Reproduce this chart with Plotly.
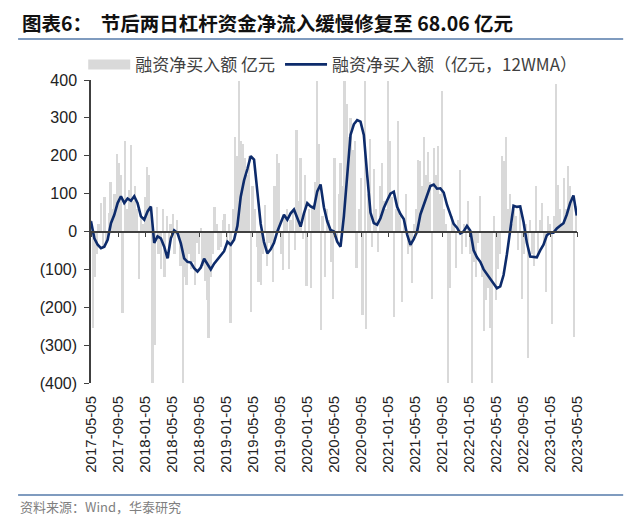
import pandas as pd
import plotly.graph_objects as go

# ---------------- data ----------------
title_text = "图表6：  节后两日杠杆资金净流入缓慢修复至 68.06 亿元"
source_text = "资料来源：Wind，华泰研究"
bar_name = "融资净买入额 亿元"
line_name = "融资净买入额（亿元，12WMA）"

tick_dates = ["2017-05-05", "2017-09-05", "2018-01-05", "2018-05-05", "2018-09-05",
              "2019-01-05", "2019-05-05", "2019-09-05", "2020-01-05", "2020-05-05",
              "2020-09-05", "2021-01-05", "2021-05-05", "2021-09-05", "2022-01-05",
              "2022-05-05", "2022-09-05", "2023-01-05", "2023-05-05"]

y_tick_vals = [400, 300, 200, 100, 0, -100, -200, -300, -400]
y_tick_text = ["400", "300", "200", "100", "0", "(100)", "(200)", "(300)", "(400)"]

# daily net financing purchases, sampled every 9 days (亿元)
bar_start = "2017-05-05"
bar_step = "9D"
bar_values = [
    30, -255, -120, -60, 20, 75, -40, 90, -30, 50,
    130, 60, 100, 205, 180, 150, -215, 238, 60, 110,
    228, 80, 120, 60, -125, 40, 20, 90, 170, 150,
    60, -400, -300, 65, -60, -100, 60, -120, 40, -70,
    20, 45, -60, 30, -20, -90, -400, -120, -140, -60,
    -100, -80, -140, -30, -60, 10, -90, -130, -180, -282,
    -120, -60, 66, 20, -50, -40, 30, 45, -30, 20,
    -242, 60, 250, 200, 397, 240, 230, 195, 150, 200,
    -213, 120, 60, -40, -133, -140, -60, 70, -90, -30,
    -50, -133, 120, 205, 180, -60, -102, 40, 60, -100,
    30, 60, -50, 269, 80, 195, -20, 150, -145, 60,
    -150, 70, 130, 397, 230, -260, 40, -120, 60, 30,
    -80, -177, 195, -20, 100, 180, 120, 397, 336, 250,
    300, 216, 240, -97, 60, 140, -221, 397, -257, 100,
    243, -40, 164, 60, -53, 120, 180, 80, 60, 397,
    239, 90, -225, 60, 291, 40, -186, 30, 100, -60,
    -40, -137, 20, 60, 190, 186, 120, 250, 150, 210,
    130, -177, 220, 150, 225, 100, 372, 60, 20, -400,
    -150, 40, 20, -97, 30, 163, -60, 20, -40, 80,
    -60, -400, -80, -120, -30, 93, -120, -264, -180, -150,
    -255, -400, 40, -180, -100, -60, 200, 186, 250, 60,
    100, 20, 60, 40, -50, 70, -177, -60, 20, -335,
    30, -60, -90, 120, -60, 30, 75, -30, -160, 40,
    20, -243, 40, 390, 124, 60, 20, 142, 60, 173,
    120, 90, -278, 68.06,
]

# 12-week moving average, sampled every 15 days (亿元)
line_start = "2017-05-05"
line_step = "15D"
line_values = [
    27, -18, -35, -44, -40, -22, 22, 44, 75, 93,
    75, 87, 81, 93, 75, 40, 31, 53, 66, -30,
    -13, -18, -40, -71, -18, 3, -4, -31, -71, -80,
    -82, -97, -106, -95, -72, -86, -100, -85, -73, -64,
    -52, -27, -35, -22, 15, 92, 135, 165, 199, 190,
    100, 20, -28, -58, -47, -30, 0, 22, 44, 31,
    48, 58, 35, 13, 48, 75, 66, 62, 106, 124,
    64, 27, 4, 0, -27, -40, 40, 160, 255, 283,
    294, 290, 255, 150, 50, 22, 18, 35, 62, 82,
    100, 105, 65, 46, 33, -8, -35, -20, 0, 45,
    72, 96, 120, 124, 113, 114, 103, 70, 42, 20,
    10, -5, 0, 15, 2, -50, -68, -80, -100, -113,
    -125, -140, -150, -145, -115, -60, 10, 68, 65, 66,
    25, -30, -66, -67, -68, -50, -35, -10, -3, -3,
    8, 15, 22, 45, 75, 95, 42,
]

bar_dates = pd.date_range(bar_start, periods=len(bar_values), freq=bar_step)
line_dates = pd.date_range(line_start, periods=len(line_values), freq=line_step)

# ---------------- style ----------------
FONT = "Arial, 'Liberation Sans', 'Noto Sans CJK SC', sans-serif"
CJK = "'Noto Sans CJK SC', Arial, sans-serif"
BAR_COLOR = "#d9d9d9"
LINE_COLOR = "#0d2b6b"
AXIS_COLOR = "#404040"
RULE_COLOR = "#7f9bbf"
x_range = [tick_dates[0], tick_dates[-1]]

fig = go.Figure()

fig.add_trace(go.Bar(
    x=bar_dates, y=bar_values, marker_color=BAR_COLOR, marker_line_width=0,
    width=9 * 86400000, showlegend=False, xaxis="x", yaxis="y",
))
# legend swatch for the bars (legend only)
fig.add_trace(go.Scatter(
    x=[None], y=[None], mode="lines", name=bar_name,
    line=dict(color=BAR_COLOR, width=10), xaxis="x", yaxis="y",
))
fig.add_trace(go.Scatter(
    x=line_dates, y=line_values, mode="lines", name=line_name,
    line=dict(color=LINE_COLOR, width=2.6), xaxis="x2", yaxis="y",
))

# the page body has an 8px margin, so the figure is 8px smaller on each axis
fig.update_layout(
    width=632, height=510,
    margin=dict(l=83, r=63, t=72, b=135),
    paper_bgcolor="white", plot_bgcolor="white",
    font=dict(family=FONT, size=15, color="#222222"),
    bargap=0,
    showlegend=True,
    legend=dict(
        orientation="h", x=-0.016, xanchor="left", y=1.05, yanchor="middle",
        font=dict(family=CJK, size=17, color="#404040"),
        itemwidth=42, traceorder="normal", bgcolor="rgba(0,0,0,0)",
    ),
    xaxis=dict(
        range=x_range, type="date", domain=[0, 1], anchor="y",
        tickvals=tick_dates, ticktext=tick_dates, tickangle=-90,
        showline=False, showgrid=False, zeroline=False,
        ticks="outside", ticklen=6, tickcolor="rgba(0,0,0,0)",
        tickfont=dict(family=FONT, size=15, color="#222222"),
    ),
    xaxis2=dict(
        range=x_range, type="date", overlaying="x", anchor="free", position=0.5,
        tickvals=tick_dates, showticklabels=False,
        showline=True, linecolor=AXIS_COLOR, linewidth=1.5,
        ticks="outside", ticklen=5, tickcolor=AXIS_COLOR, tickwidth=1,
        showgrid=False, zeroline=False,
    ),
    yaxis=dict(
        range=[-400, 400], domain=[0, 1],
        tickvals=y_tick_vals, ticktext=y_tick_text,
        showline=True, linecolor=AXIS_COLOR, linewidth=1.5,
        ticks="outside", ticklen=5, tickcolor=AXIS_COLOR,
        ticklabelstandoff=4,
        showgrid=False, zeroline=False,
        tickfont=dict(family=FONT, size=16, color="#222222"),
    ),
)

fig.add_annotation(
    text="<b>" + title_text + "</b>", xref="paper", yref="paper",
    x=-0.146, y=1.191, xanchor="left", yanchor="middle", showarrow=False,
    font=dict(family=CJK, size=19.5, color="#111111"),
)
fig.add_annotation(
    text=source_text, xref="paper", yref="paper",
    x=-0.150, y=-0.409, xanchor="left", yanchor="middle", showarrow=False,
    font=dict(family=CJK, size=13, color="#808080"),
)
fig.add_shape(type="line", xref="paper", yref="paper",
              x0=-0.150, x1=1.095, y0=1.135, y1=1.135,
              line=dict(color=RULE_COLOR, width=2))
fig.add_shape(type="line", xref="paper", yref="paper",
              x0=-0.150, x1=1.095, y0=-0.3696, y1=-0.3696,
              line=dict(color=RULE_COLOR, width=2))

fig.write_html("out.html")
